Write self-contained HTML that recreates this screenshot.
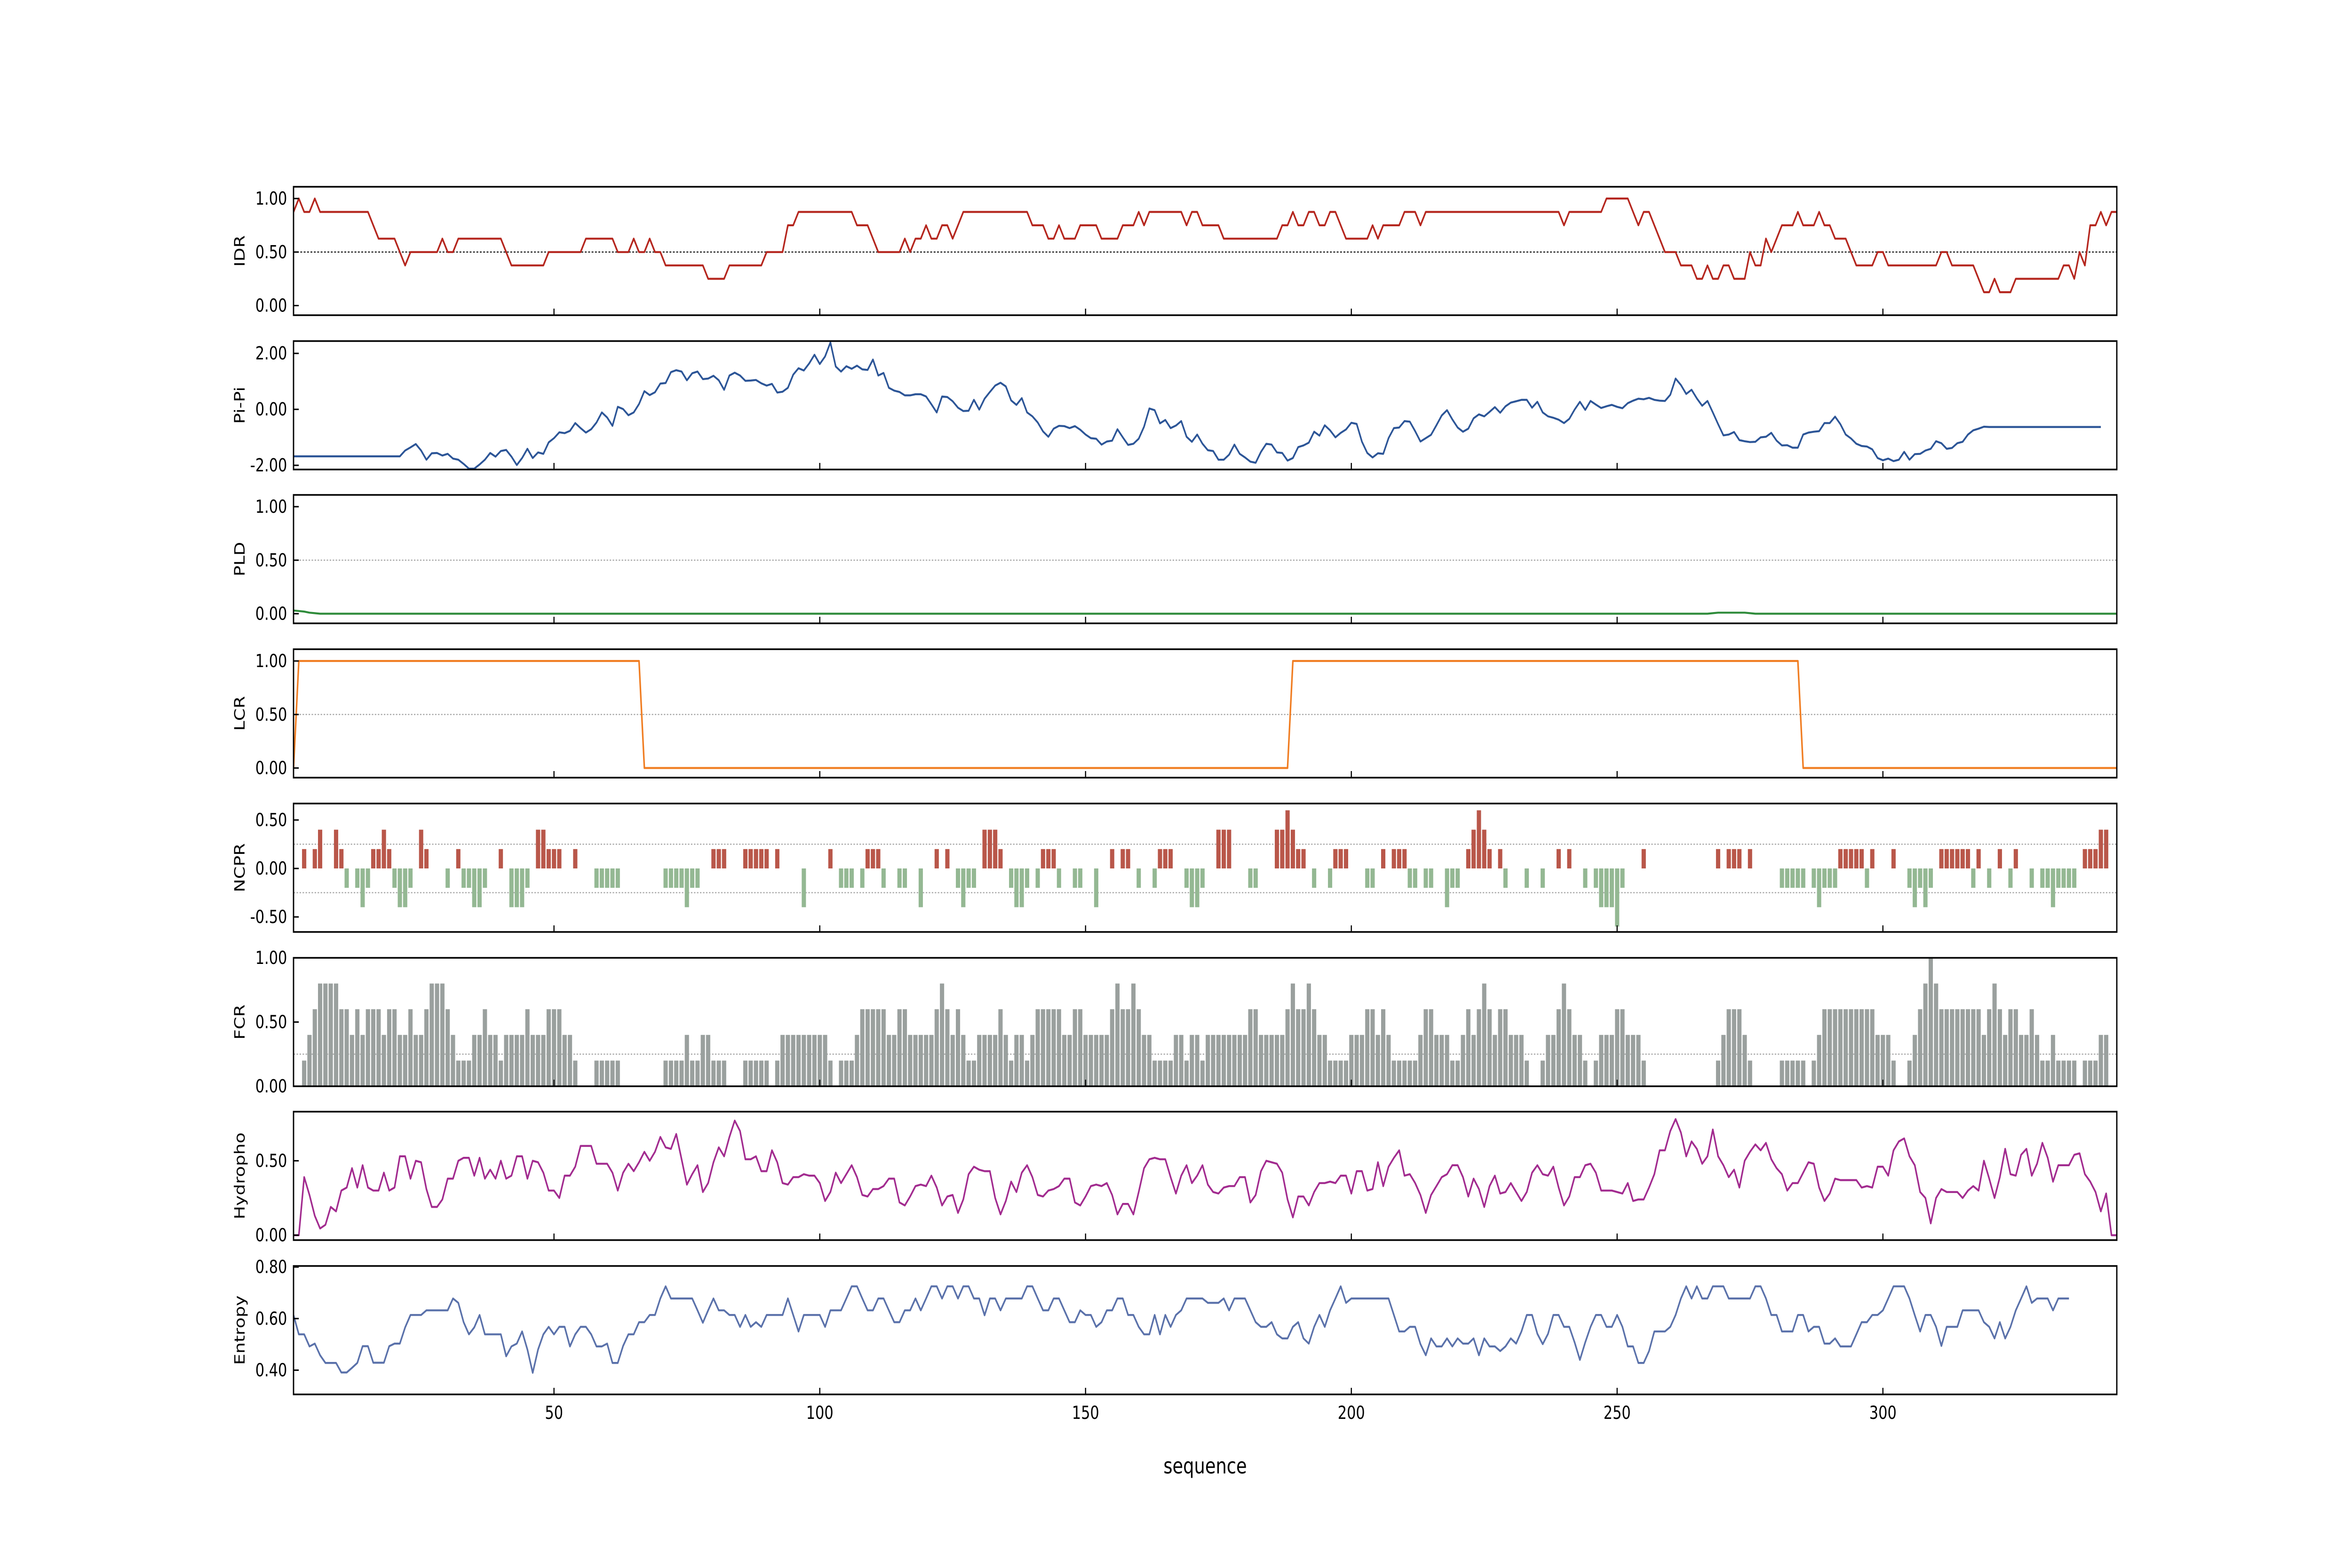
<!DOCTYPE html>
<html><head><meta charset="utf-8"><title>Sequence profile</title>
<meta name="viewport" content="width=6250, initial-scale=1">
<style>
html,body{margin:0;padding:0;background:#fff;overflow:hidden;width:100%;height:100%;}
svg{display:block;width:100vw;height:100vh;}
text{font-family:"DejaVu Sans","Liberation Sans",sans-serif;fill:#000;}
</style></head>
<body>
<svg id="chart" xmlns="http://www.w3.org/2000/svg" viewBox="0 0 6250 3333" preserveAspectRatio="none">
<rect x="0" y="0" width="6250" height="3333" fill="#fff"/>
</svg>
<script>
// ---- data (index i => sequence position i+1) ----
const xTicks = [50,100,150,200,250,300];
const xTickLabels = ["50","100","150","200","250","300"];

const idr = [.875,1,.875,.875,1,.875,.875,.875,.875,.875,
.875,.875,.875,.875,.875,.75,.625,.625,.625,.625,
.5,.375,.5,.5,.5,.5,.5,.5,.625,.5,
.5,.625,.625,.625,.625,.625,.625,.625,.625,.625,
.5,.375,.375,.375,.375,.375,.375,.375,.5,.5,
.5,.5,.5,.5,.5,.625,.625,.625,.625,.625,
.625,.5,.5,.5,.625,.5,.5,.625,.5,.5,
.375,.375,.375,.375,.375,.375,.375,.375,.25,.25,
.25,.25,.375,.375,.375,.375,.375,.375,.375,.5,
.5,.5,.5,.75,.75,.875,.875,.875,.875,.875,
.875,.875,.875,.875,.875,.875,.75,.75,.75,.625,
.5,.5,.5,.5,.5,.625,.5,.625,.625,.75,
.625,.625,.75,.75,.625,.75,.875,.875,.875,.875,
.875,.875,.875,.875,.875,.875,.875,.875,.875,.75,
.75,.75,.625,.625,.75,.625,.625,.625,.75,.75,
.75,.75,.625,.625,.625,.625,.75,.75,.75,.875,
.75,.875,.875,.875,.875,.875,.875,.875,.75,.875,
.875,.75,.75,.75,.75,.625,.625,.625,.625,.625,
.625,.625,.625,.625,.625,.625,.75,.75,.875,.75,
.75,.875,.875,.75,.75,.875,.875,.75,.625,.625,
.625,.625,.625,.75,.625,.75,.75,.75,.75,.875,
.875,.875,.75,.875,.875,.875,.875,.875,.875,.875,
.875,.875,.875,.875,.875,.875,.875,.875,.875,.875,
.875,.875,.875,.875,.875,.875,.875,.875,.875,.75,
.875,.875,.875,.875,.875,.875,.875,1,1,1,
1,1,.875,.75,.875,.875,.75,.625,.5,.5,
.5,.375,.375,.375,.25,.25,.375,.25,.25,.375,
.375,.25,.25,.25,.5,.375,.375,.625,.5,.625,
.75,.75,.75,.875,.75,.75,.75,.875,.75,.75,
.625,.625,.625,.5,.375,.375,.375,.375,.5,.5,
.375,.375,.375,.375,.375,.375,.375,.375,.375,.375,
.5,.5,.375,.375,.375,.375,.375,.25,.125,.125,
.25,.125,.125,.125,.25,.25,.25,.25,.25,.25,
.25,.25,.25,.375,.375,.25,.5,.375,.75,.75,
.875,.75,.875,.875];

const pipi = [-1.68,-1.68,-1.68,-1.68,-1.68,-1.68,-1.68,-1.68,-1.68,-1.68,
-1.68,-1.68,-1.68,-1.68,-1.68,-1.68,-1.68,-1.68,-1.68,-1.68,-1.68,
-1.47,-1.36,-1.24,-1.47,-1.80,-1.57,-1.56,-1.65,-1.59,
-1.76,-1.80,-1.95,-2.12,-2.12,-1.97,-1.80,-1.56,-1.69,-1.49,
-1.45,-1.69,-1.99,-1.74,-1.41,-1.74,-1.54,-1.59,-1.18,-1.03,
-0.82,-0.85,-0.77,-0.49,-0.67,-0.83,-0.71,-0.47,-0.11,-0.29,
-0.59,0.09,0.01,-0.21,-0.11,0.19,0.65,0.51,0.61,0.92,
0.94,1.33,1.40,1.35,1.04,1.29,1.35,1.08,1.10,1.20,
1.04,0.70,1.21,1.31,1.21,1.02,1.03,1.05,0.93,0.85,
0.91,0.60,0.63,0.77,1.24,1.47,1.39,1.64,1.95,1.62,
1.89,2.39,1.53,1.35,1.54,1.45,1.56,1.43,1.41,1.78,
1.21,1.30,0.77,0.67,0.62,0.50,0.50,0.54,0.54,0.46,
0.18,-0.11,0.46,0.44,0.29,0.06,-0.06,-0.05,0.34,-0.01,
0.38,0.62,0.85,0.95,0.82,0.32,0.16,0.40,-0.11,-0.25,
-0.47,-0.79,-0.98,-0.69,-0.59,-0.60,-0.67,-0.60,-0.73,-0.90,
-1.03,-1.05,-1.26,-1.15,-1.12,-0.71,-1.00,-1.27,-1.23,-1.05,
-0.62,0.03,-0.03,-0.50,-0.38,-0.67,-0.58,-0.42,-0.98,-1.16,
-0.90,-1.23,-1.46,-1.49,-1.80,-1.80,-1.62,-1.26,-1.59,-1.72,
-1.87,-1.91,-1.52,-1.23,-1.26,-1.54,-1.56,-1.83,-1.74,-1.35,
-1.29,-1.19,-0.80,-0.94,-0.57,-0.75,-1.00,-0.84,-0.72,-0.48,
-0.52,-1.16,-1.56,-1.72,-1.57,-1.59,-1.03,-0.67,-0.65,-0.42,
-0.44,-0.78,-1.15,-1.03,-0.91,-0.57,-0.22,-0.03,-0.36,-0.65,
-0.80,-0.69,-0.32,-0.18,-0.25,-0.09,0.08,-0.12,0.11,0.24,
0.29,0.34,0.34,0.06,0.27,-0.11,-0.25,-0.30,-0.37,-0.49,
-0.34,-0.01,0.27,-0.02,0.30,0.17,0.05,0.11,0.16,0.09,
0.04,0.22,0.31,0.38,0.36,0.41,0.34,0.31,0.30,0.52,
1.10,0.87,0.55,0.70,0.39,0.13,0.30,-0.11,-0.53,-0.93,
-0.90,-0.81,-1.10,-1.14,-1.17,-1.16,-1.00,-0.98,-0.84,-1.12,
-1.29,-1.28,-1.37,-1.37,-0.90,-0.83,-0.80,-0.78,-0.49,-0.49,
-0.26,-0.53,-0.90,-1.04,-1.23,-1.31,-1.33,-1.43,-1.74,-1.82,
-1.76,-1.85,-1.80,-1.52,-1.80,-1.60,-1.59,-1.47,-1.41,-1.14,
-1.21,-1.41,-1.38,-1.21,-1.16,-0.90,-0.75,-0.69,-0.62,-0.63,
-0.63,-0.63,-0.63,-0.63,-0.63,-0.63,-0.63,-0.63,-0.63,-0.63,
-0.63,-0.63,-0.63,-0.63,-0.63,-0.63,-0.63,-0.63,-0.63,-0.63,-0.63];

const pld = [0.03,0.025,0.02,0.01,0.005,0,0,0,0,0,0,0,0,0,0,0,0,0,0,0,
0,0,0,0,0,0,0,0,0,0,0,0,0,0,0,0,0,0,0,0,0,0,0,0,0,0,0,0,0,0,
0,0,0,0,0,0,0,0,0,0,0,0,0,0,0,0,0,0,0,0,0,0,0,0,0,0,0,0,0,0,
0,0,0,0,0,0,0,0,0,0,0,0,0,0,0,0,0,0,0,0,0,0,0,0,0,0,0,0,0,0,
0,0,0,0,0,0,0,0,0,0,0,0,0,0,0,0,0,0,0,0,0,0,0,0,0,0,0,0,0,0,
0,0,0,0,0,0,0,0,0,0,0,0,0,0,0,0,0,0,0,0,0,0,0,0,0,0,0,0,0,0,
0,0,0,0,0,0,0,0,0,0,0,0,0,0,0,0,0,0,0,0,0,0,0,0,0,0,0,0,0,0,
0,0,0,0,0,0,0,0,0,0,0,0,0,0,0,0,0,0,0,0,0,0,0,0,0,0,0,0,0,0,
0,0,0,0,0,0,0,0,0,0,0,0,0,0,0,0,0,0,0,0,0,0,0,0,0,0,0,0,0,0,
0,0,0,0,0,0,0,0.005,0.01,0.01,0.01,0.01,0.01,0.01,0.005,0,0,0,0,0,
0,0,0,0,0,0,0,0,0,0,0,0,0,0,0,0,0,0,0,0,0,0,0,0,0,0,0,0,0,0,
0,0,0,0,0,0,0,0,0,0,0,0,0,0,0,0,0,0,0,0,0,0,0,0,0,0,0,0,0,0,
0,0,0,0,0,0,0,0,0,0,0,0,0,0,0,0,0,0,0,0,0,0,0,0];

const lcr = [0,1,1,1,1,1,1,1,1,1,1,1,1,1,1,1,1,1,1,1,1,1,1,1,1,1,1,1,1,1,
1,1,1,1,1,1,1,1,1,1,1,1,1,1,1,1,1,1,1,1,1,1,1,1,1,1,1,1,1,1,1,1,1,1,1,1,
0,0,0,0,0,0,0,0,0,0,0,0,0,0,0,0,0,0,0,0,0,0,0,0,0,0,0,0,0,0,0,0,0,0,
0,0,0,0,0,0,0,0,0,0,0,0,0,0,0,0,0,0,0,0,0,0,0,0,0,0,0,0,0,0,0,0,0,0,
0,0,0,0,0,0,0,0,0,0,0,0,0,0,0,0,0,0,0,0,0,0,0,0,0,0,0,0,0,0,0,0,0,0,0,0,0,0,0,0,
0,0,0,0,0,0,0,0,0,0,0,0,0,0,
1,1,1,1,1,1,1,1,1,1,1,1,1,1,1,1,1,1,1,1,1,1,1,1,1,1,1,1,1,1,1,1,
1,1,1,1,1,1,1,1,1,1,1,1,1,1,1,1,1,1,1,1,1,1,1,1,1,1,1,1,1,1,1,1,
1,1,1,1,1,1,1,1,1,1,1,1,1,1,1,1,1,1,1,1,1,1,1,1,1,1,1,1,1,1,1,1,
0,0,0,0,0,0,0,0,0,0,0,0,0,0,0,0,0,0,0,0,0,0,0,0,0,0,0,0,0,0,0,0,0,0,0,0,0,0,0,0,
0,0,0,0,0,0,0,0,0,0,0,0,0,0,0,0,0,0,0,0,0,0,0,0,0,0,0,0,0,0,0,0,0,0,0,0,0,0,0,0];

const ncpr = [0,0,.2,0,.2,.4,0,0,.4,.2,
-.2,0,-.2,-.4,-.2,.2,.2,.4,.2,-.2,
-.4,-.4,-.2,0,.4,.2,0,0,0,-.2,
0,.2,-.2,-.2,-.4,-.4,-.2,0,0,.2,
0,-.4,-.4,-.4,-.2,0,.4,.4,.2,.2,
.2,0,0,.2,0,0,0,-.2,-.2,-.2,
-.2,-.2,0,0,0,0,0,0,0,0,
-.2,-.2,-.2,-.2,-.4,-.2,-.2,0,0,.2,
.2,.2,0,0,0,.2,.2,.2,.2,.2,
0,.2,0,0,0,0,-.4,0,0,0,
0,.2,0,-.2,-.2,-.2,0,-.2,.2,.2,
.2,-.2,0,0,-.2,-.2,0,0,-.4,0,
0,.2,0,.2,0,-.2,-.4,-.2,-.2,0,
.4,.4,.4,.2,0,-.2,-.4,-.4,-.2,0,
-.2,.2,.2,.2,-.2,0,0,-.2,-.2,0,
0,-.4,0,0,.2,0,.2,.2,0,-.2,
0,0,-.2,.2,.2,.2,0,0,-.2,-.4,
-.4,-.2,0,0,.4,.4,.4,0,0,0,
-.2,-.2,0,0,0,.4,.4,.6,.4,.2,
.2,0,-.2,0,0,-.2,.2,.2,.2,0,
0,0,-.2,-.2,0,.2,0,.2,.2,.2,
-.2,-.2,0,-.2,-.2,0,0,-.4,-.2,-.2,
0,.2,.4,.6,.4,.2,0,.2,-.2,0,
0,0,-.2,0,0,-.2,0,0,.2,0,
.2,0,0,-.2,0,-.2,-.4,-.4,-.4,-.6,
-.2,0,0,0,.2,0,0,0,0,0,
0,0,0,0,0,0,0,0,.2,0,
.2,.2,.2,0,.2,0,0,0,0,0,
-.2,-.2,-.2,-.2,-.2,0,-.2,-.4,-.2,-.2,
-.2,.2,.2,.2,.2,.2,-.2,.2,0,0,
0,.2,0,0,-.2,-.4,-.2,-.4,-.2,0,
.2,.2,.2,.2,.2,.2,-.2,.2,0,-.2,
0,.2,0,-.2,.2,0,0,-.2,0,-.2,
-.2,-.4,-.2,-.2,-.2,-.2,0,.2,.2,.2,
.4,.4,0,0];

const fcr = [0,0,.2,.4,.6,.8,.8,.8,.8,.6,
.6,.4,.6,.4,.6,.6,.6,.4,.6,.6,
.4,.4,.6,.4,.4,.6,.8,.8,.8,.6,
.4,.2,.2,.2,.4,.4,.6,.4,.4,.2,
.4,.4,.4,.4,.6,.4,.4,.4,.6,.6,
.6,.4,.4,.2,0,0,0,.2,.2,.2,
.2,.2,0,0,0,0,0,0,0,0,
.2,.2,.2,.2,.4,.2,.2,.4,.4,.2,
.2,.2,0,0,0,.2,.2,.2,.2,.2,
0,.2,.4,.4,.4,.4,.4,.4,.4,.4,
.4,.2,0,.2,.2,.2,.4,.6,.6,.6,
.6,.6,.4,.4,.6,.6,.4,.4,.4,.4,
.4,.6,.8,.6,.4,.6,.4,.2,.2,.4,
.4,.4,.4,.6,.4,.2,.4,.4,.2,.4,
.6,.6,.6,.6,.6,.4,.4,.6,.6,.4,
.4,.4,.4,.4,.6,.8,.6,.6,.8,.6,
.4,.4,.2,.2,.2,.2,.4,.4,.2,.4,
.4,.2,.4,.4,.4,.4,.4,.4,.4,.4,
.6,.6,.4,.4,.4,.4,.4,.6,.8,.6,
.6,.8,.6,.4,.4,.2,.2,.2,.2,.4,
.4,.4,.6,.6,.4,.6,.4,.2,.2,.2,
.2,.2,.4,.6,.6,.4,.4,.4,.2,.2,
.4,.6,.4,.6,.8,.6,.4,.6,.6,.4,
.4,.4,.2,0,0,.2,.4,.4,.6,.8,
.6,.4,.4,.2,0,.2,.4,.4,.4,.6,
.6,.4,.4,.4,.2,0,0,0,0,0,
0,0,0,0,0,0,0,0,.2,.4,
.6,.6,.6,.4,.2,0,0,0,0,0,
.2,.2,.2,.2,.2,0,.2,.4,.6,.6,
.6,.6,.6,.6,.6,.6,.6,.6,.4,.4,
.4,.2,0,0,.2,.4,.6,.8,1,.8,
.6,.6,.6,.6,.6,.6,.6,.6,.4,.6,
.8,.6,.4,.6,.6,.4,.4,.6,.4,.2,
.2,.4,.2,.2,.2,.2,0,.2,.2,.2,
.4,.4,0,0];

const hydro = [0,0,.39,.27,.13,.045,.07,.19,.16,.30,
.32,.45,.32,.47,.32,.30,.30,.42,.30,.32,
.53,.53,.38,.50,.49,.31,.19,.19,.24,.38,
.38,.50,.52,.52,.40,.52,.38,.44,.38,.50,
.38,.40,.53,.53,.38,.50,.49,.42,.30,.30,
.25,.40,.40,.46,.60,.60,.60,.48,.48,.48,
.42,.30,.42,.48,.43,.49,.56,.50,.56,.66,
.59,.58,.68,.51,.34,.41,.47,.29,.35,.49,
.59,.53,.66,.77,.70,.51,.51,.53,.43,.43,
.57,.49,.35,.34,.39,.39,.41,.40,.40,.35,
.23,.29,.42,.35,.41,.47,.39,.27,.26,.31,
.31,.33,.38,.38,.22,.20,.26,.33,.34,.33,
.40,.32,.20,.26,.27,.15,.24,.41,.46,.44,
.43,.43,.25,.14,.23,.36,.29,.42,.47,.39,
.27,.26,.30,.31,.33,.38,.38,.22,.20,.26,
.33,.34,.33,.35,.27,.14,.21,.21,.14,.29,
.45,.51,.52,.51,.51,.39,.28,.40,.47,.35,
.40,.47,.34,.29,.28,.32,.33,.33,.39,.39,
.22,.27,.43,.50,.49,.48,.42,.24,.12,.26,
.26,.20,.29,.35,.35,.36,.35,.40,.40,.28,
.43,.43,.30,.31,.49,.33,.46,.52,.57,.40,
.41,.35,.27,.15,.27,.33,.39,.41,.47,.47,
.39,.26,.38,.31,.19,.33,.40,.28,.29,.35,
.29,.23,.29,.42,.47,.41,.40,.46,.32,.20,
.26,.39,.39,.47,.48,.42,.30,.30,.30,.29,
.28,.35,.23,.24,.24,.32,.41,.57,.57,.70,
.78,.69,.53,.63,.58,.48,.53,.71,.53,.47,
.39,.44,.32,.50,.56,.61,.57,.62,.51,.45,
.41,.30,.35,.35,.42,.49,.48,.32,.23,.28,
.38,.37,.37,.37,.37,.32,.33,.32,.46,.46,
.40,.57,.63,.65,.53,.47,.29,.25,.08,.25,
.31,.29,.29,.29,.25,.30,.33,.30,.50,.38,
.25,.39,.58,.41,.40,.54,.58,.40,.48,.62,
.52,.36,.47,.47,.47,.54,.55,.41,.36,.29,
.16,.28,0,0];

const entropy = [.613,.539,.539,.492,.503,.458,.428,.428,.428,.391,
.391,.409,.428,.493,.493,.429,.429,.429,.493,.503,
.503,.566,.614,.614,.614,.632,.632,.632,.632,.632,
.678,.661,.586,.539,.566,.614,.539,.539,.539,.539,
.454,.492,.503,.550,.480,.390,.480,.539,.568,.539,
.568,.568,.492,.539,.568,.568,.539,.492,.492,.503,
.428,.428,.494,.539,.539,.586,.586,.614,.614,.678,
.725,.678,.678,.678,.678,.678,.632,.584,.632,.678,
.632,.632,.614,.614,.568,.614,.568,.586,.568,.614,
.614,.614,.614,.678,.614,.550,.614,.614,.614,.614,
.568,.632,.632,.632,.678,.725,.725,.678,.632,.632,
.678,.678,.632,.586,.586,.632,.632,.678,.632,.678,
.725,.725,.678,.725,.725,.678,.725,.725,.678,.678,
.613,.678,.678,.632,.678,.678,.678,.678,.725,.725,
.678,.632,.632,.678,.678,.632,.586,.586,.632,.614,
.614,.568,.586,.632,.632,.678,.678,.614,.614,.568,
.539,.539,.614,.539,.614,.568,.614,.632,.678,.678,
.678,.678,.661,.661,.661,.678,.632,.678,.678,.678,
.632,.586,.568,.568,.586,.539,.523,.523,.568,.586,
.523,.503,.568,.614,.568,.632,.678,.725,.661,.678,
.678,.678,.678,.678,.678,.678,.678,.614,.550,.550,
.568,.568,.501,.458,.523,.492,.492,.523,.492,.523,
.503,.503,.523,.458,.523,.492,.492,.474,.492,.523,
.503,.550,.614,.614,.541,.501,.541,.614,.614,.568,
.568,.508,.440,.508,.568,.614,.614,.568,.568,.614,
.568,.492,.492,.428,.428,.474,.550,.550,.550,.568,
.614,.678,.725,.678,.725,.678,.678,.725,.725,.725,
.678,.678,.678,.678,.678,.725,.725,.678,.614,.614,
.550,.550,.550,.614,.614,.550,.568,.568,.503,.503,
.523,.492,.492,.492,.539,.586,.586,.614,.614,.632,
.678,.725,.725,.725,.678,.613,.550,.614,.614,.568,
.494,.568,.568,.568,.632,.632,.632,.632,.586,.568,
.523,.586,.523,.568,.632,.678,.725,.661,.678,.678,
.678,.632,.678,.678,.678];

// ---- layout ----
const NS = "http://www.w3.org/2000/svg";
const svg = document.getElementById("chart");
const L = 780, R = 5625, H = 273;
const X0 = 1, X1 = 344;
function xs(v){ return L + (v - X0) * (R - L) / (X1 - X0); }

function el(tag, attrs, parent){
  const e = document.createElementNS(NS, tag);
  for (const k in attrs) e.setAttribute(k, attrs[k]);
  (parent || svg).appendChild(e);
  return e;
}

const panels = [
  {key:"idr", label:"IDR", top:397, ylim:[-0.09,1.11], ticks:[0,0.5,1], tl:["0.00","0.50","1.00"], refs:[0.5], refStyle:"dark", type:"line", data:idr, color:"#b5261e"},
  {key:"pipi", label:"Pi-Pi", top:725, ylim:[-2.15,2.44], ticks:[-2,0,2], tl:["-2.00","0.00","2.00"], refs:[], type:"line", data:pipi, color:"#2c5597"},
  {key:"pld", label:"PLD", top:1052, ylim:[-0.09,1.11], ticks:[0,0.5,1], tl:["0.00","0.50","1.00"], refs:[0.5], refStyle:"light", type:"line", data:pld, color:"#2e8b3a"},
  {key:"lcr", label:"LCR", top:1380, ylim:[-0.09,1.11], ticks:[0,0.5,1], tl:["0.00","0.50","1.00"], refs:[0.5], refStyle:"light", type:"line", data:lcr, color:"#f07d22"},
  {key:"ncpr", label:"NCPR", top:1708, ylim:[-0.655,0.67], ticks:[-0.5,0,0.5], tl:["-0.50","0.00","0.50"], refs:[0.25,-0.25], refStyle:"light", type:"ncpr", data:ncpr},
  {key:"fcr", label:"FCR", top:2036, ylim:[0,1], ticks:[0,0.5,1], tl:["0.00","0.50","1.00"], refs:[0.25], refStyle:"light", type:"bar", data:fcr, color:"#9aa09e"},
  {key:"hydro", label:"Hydropho", top:2363, ylim:[-0.033,0.83], ticks:[0,0.5], tl:["0.00","0.50"], refs:[], type:"line", data:hydro, color:"#a22b8f"},
  {key:"entropy", label:"Entropy", top:2691, ylim:[0.306,0.804], ticks:[0.4,0.6,0.8], tl:["0.40","0.60","0.80"], refs:[], type:"line", data:entropy, color:"#5a71aa"}
];

panels.forEach(function(p, pi){
  const top = p.top, bot = p.top + H;
  function ys(v){ return bot - (v - p.ylim[0]) / (p.ylim[1] - p.ylim[0]) * H; }
  const g = el("g", {});
  
  

  const clipId = "clip" + pi;
  const cp = el("clipPath", {id: clipId}, g);
  el("rect", {x:L, y:top, width:R-L, height:H}, cp);

  p.refs.forEach(function(rv){
    const ln = el("line", {x1:L, x2:R, y1:ys(rv), y2:ys(rv),
      stroke: p.refStyle === "dark" ? "#222" : "#aaa",
      "stroke-width": 2.5,
      "stroke-dasharray": p.refStyle === "dark" ? "5,4" : "4,4"}, g);
    
    
  });

  const dg = el("g", {"clip-path": "url(#" + clipId + ")"}, g);
  if (p.type === "line") {
    let d = "";
    p.data.forEach(function(v, i){ d += (i ? "L" : "M") + xs(i + 1).toFixed(1) + "," + ys(v).toFixed(1); });
    const path = el("path", {d:d, fill:"none", stroke:p.color, "stroke-width":4.2, "stroke-linejoin":"round"}, dg);
    
    
  } else {
    const bw = 0.8 * (R - L) / (X1 - X0);
    p.data.forEach(function(v, i){
      if (v === 0) return;
      const x = xs(i + 1) - bw / 2;
      const y0 = ys(0), y1 = ys(v);
      let color = p.color;
      if (p.type === "ncpr") color = v > 0 ? "#b9574a" : "#94b893";
      const r = el("rect", {x:x.toFixed(1), y:Math.min(y0,y1).toFixed(1), width:bw.toFixed(1), height:Math.abs(y1-y0).toFixed(1), fill:color}, dg);
      
      
    });
  }

  const fr = el("rect", {x:L, y:top, width:R-L, height:H, fill:"none", stroke:"#000", "stroke-width":3.5}, g);
  
  

  p.ticks.forEach(function(tv, ti){
    const yy = ys(tv);
    const tk = el("line", {x1:L, x2:L+14, y1:yy, y2:yy, stroke:"#000", "stroke-width":3}, g);
    
    
    const t = el("text", {x:763, y:yy + 13, "text-anchor":"end", "font-size":38}, g);
    t.textContent = p.tl[ti];
    
    
  });

  xTicks.forEach(function(xv, xi){
    const xx = xs(xv);
    const tk = el("line", {x1:xx, x2:xx, y1:bot, y2:bot-14, stroke:"#000", "stroke-width":3}, g);
    
    
    if (pi === panels.length - 1) {
      const t = el("text", {x:xx, y:bot + 52, "text-anchor":"middle", "font-size":38}, g);
      t.textContent = xTickLabels[xi];
      
      
    }
  });

  const cy = top + H / 2;
  const yl = el("text", {x:0, y:0, "text-anchor":"middle", "font-size":38,
    transform:"translate(650," + cy + ") rotate(-90)"}, g);
  yl.textContent = p.label;
  
  
});

const xl = el("text", {x:(L+R)/2, y:3132, "text-anchor":"middle", "font-size":46});
xl.textContent = "sequence";


</script>
</body></html>
